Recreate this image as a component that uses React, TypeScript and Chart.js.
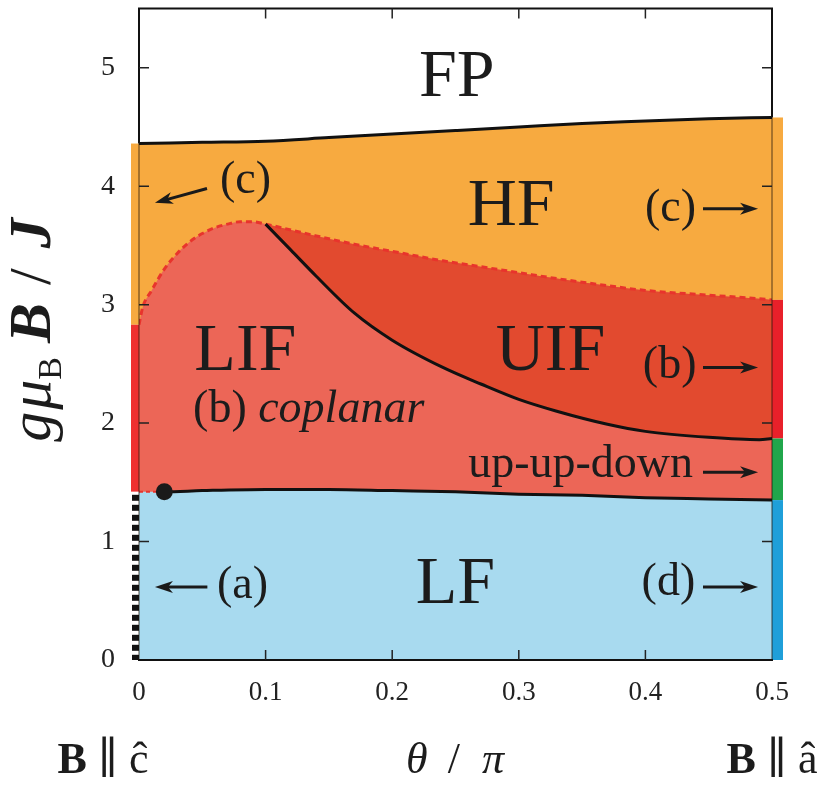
import React, { useEffect, useRef } from 'react';
import { Chart, registerables } from 'chart.js';

Chart.register(...registerables);

const SERIF = '"Liberation Serif", "Times New Roman", "DejaVu Serif", serif';

// Phase boundaries of the field–angle phase diagram (θ/π on x, gμB·B/J on y)
// FP / HF boundary
const thetaFpHf = [0, 0.05, 0.1, 0.15, 0.2, 0.25, 0.3, 0.35, 0.4, 0.45, 0.5];
const fieldFpHf = [4.36, 4.37, 4.38, 4.41, 4.44, 4.47, 4.5, 4.53, 4.55, 4.57, 4.58];

// HF / intermediate-phase boundary (dashed)
const thetaHfInt = [0, 0.003, 0.01, 0.02, 0.03, 0.04, 0.05, 0.06, 0.07, 0.08, 0.09, 0.1, 0.12, 0.14, 0.17, 0.2, 0.24, 0.27, 0.3, 0.33, 0.37, 0.4, 0.45, 0.49, 0.5];
const fieldHfInt = [2.83, 2.98, 3.12, 3.3, 3.43, 3.53, 3.6, 3.65, 3.68, 3.7, 3.7, 3.68, 3.63, 3.58, 3.51, 3.45, 3.37, 3.32, 3.27, 3.22, 3.16, 3.12, 3.08, 3.05, 3.04];

// LIF / UIF boundary
const thetaLifUif = [0.1, 0.12, 0.14, 0.17, 0.2, 0.24, 0.27, 0.3, 0.33, 0.37, 0.4, 0.45, 0.49, 0.5];
const fieldLifUif = [3.68, 3.46, 3.24, 2.93, 2.7, 2.47, 2.33, 2.2, 2.1, 1.99, 1.93, 1.88, 1.86, 1.87];

// LF / intermediate-phase boundary
const thetaLf = [0, 0.02, 0.05, 0.1, 0.15, 0.2, 0.25, 0.3, 0.35, 0.4, 0.45, 0.5];
const fieldLf = [1.42, 1.42, 1.43, 1.44, 1.44, 1.43, 1.42, 1.4, 1.39, 1.37, 1.36, 1.35];

// special point on the LF boundary
const dotTheta = [0.02];
const dotField = [1.42];

const xTickValues = [0, 0.1, 0.2, 0.3, 0.4, 0.5];
const yTickValues = [0, 1, 2, 3, 4, 5];

const C_HF = '#F7AA40';
const C_LIF = '#EC6657';
const C_UIF = '#E24A2F';
const C_LF = '#A8DAEF';
const C_DASH = '#E8342C';

const pts = (xs: number[], ys: number[]) => xs.map((x, i) => ({ x, y: ys[i] }));

type Run = { t: string; f: string; dy?: number; gap?: number };

function drawRuns(ctx: CanvasRenderingContext2D, runs: Run[], x: number, y: number, align: 'left' | 'center' | 'right') {
  let total = 0;
  for (const r of runs) {
    ctx.font = r.f;
    total += ctx.measureText(r.t).width + (r.gap || 0);
  }
  let cx = align === 'left' ? x : align === 'center' ? x - total / 2 : x - total;
  ctx.textAlign = 'left';
  ctx.textBaseline = 'alphabetic';
  for (const r of runs) {
    ctx.font = r.f;
    ctx.fillText(r.t, cx, y + (r.dy || 0));
    cx += ctx.measureText(r.t).width + (r.gap || 0);
  }
}

function arrow(ctx: CanvasRenderingContext2D, x0: number, y0: number, x1: number, y1: number) {
  const ang = Math.atan2(y1 - y0, x1 - x0);
  const head = 15;
  const half = 6;
  const bx = x1 - head * Math.cos(ang);
  const by = y1 - head * Math.sin(ang);
  ctx.save();
  ctx.strokeStyle = '#1a1a1a';
  ctx.fillStyle = '#1a1a1a';
  ctx.lineWidth = 3;
  ctx.beginPath();
  ctx.moveTo(x0, y0);
  ctx.lineTo(bx + 3 * Math.cos(ang), by + 3 * Math.sin(ang));
  ctx.stroke();
  ctx.beginPath();
  ctx.moveTo(x1, y1);
  ctx.lineTo(bx - half * Math.sin(ang) - 3 * Math.cos(ang), by + half * Math.cos(ang) - 3 * Math.sin(ang));
  ctx.lineTo(bx + 2 * Math.cos(ang), by + 2 * Math.sin(ang));
  ctx.lineTo(bx + half * Math.sin(ang) - 3 * Math.cos(ang), by - half * Math.cos(ang) - 3 * Math.sin(ang));
  ctx.closePath();
  ctx.fill();
  ctx.restore();
}

const decor = {
  id: 'phaseDecor',
  afterDatasetsDraw(chart: any) {
    const ctx: CanvasRenderingContext2D = chart.ctx;
    const xs = chart.scales.x;
    const ys = chart.scales.y;
    const { left, right, top, bottom } = chart.chartArea;
    const X = (v: number) => xs.getPixelForValue(v);
    const Y = (v: number) => ys.getPixelForValue(v);
    const n = (a: number[]) => a[a.length - 1];

    ctx.save();
    // left edge strips (θ = 0)
    const lw = 8;
    ctx.fillStyle = C_HF;
    ctx.fillRect(left - lw, Y(fieldFpHf[0]), lw, Y(fieldHfInt[0]) - Y(fieldFpHf[0]));
    ctx.fillStyle = '#EE3030';
    ctx.fillRect(left - lw, Y(fieldHfInt[0]), lw, Y(fieldLf[0]) - Y(fieldHfInt[0]));
    ctx.fillStyle = '#ffffff';
    ctx.fillRect(left - lw, Y(fieldLf[0]), lw, bottom - Y(fieldLf[0]));
    ctx.fillStyle = '#111';
    for (let yy = Y(fieldLf[0]) + 3; yy < bottom; yy += 10) {
      ctx.fillRect(left - lw + 1, yy, lw - 1, Math.min(6, bottom - yy));
    }

    // right edge strips (θ = π/2)
    const rw = 11;
    ctx.fillStyle = C_HF;
    ctx.fillRect(right, Y(n(fieldFpHf)), rw, Y(n(fieldHfInt)) - Y(n(fieldFpHf)));
    ctx.fillStyle = '#E8202A';
    ctx.fillRect(right, Y(n(fieldHfInt)), rw, Y(n(fieldLifUif)) - Y(n(fieldHfInt)));
    ctx.fillStyle = '#20A64B';
    ctx.fillRect(right, Y(n(fieldLifUif)), rw, Y(n(fieldLf)) - Y(n(fieldLifUif)));
    ctx.fillStyle = '#1F9FD9';
    ctx.fillRect(right, Y(n(fieldLf)), rw, bottom - Y(n(fieldLf)));

    // frame
    ctx.strokeStyle = '#111';
    ctx.lineWidth = 2;
    ctx.beginPath();
    ctx.moveTo(left, Y(fieldFpHf[0]));
    ctx.lineTo(left, top);
    ctx.lineTo(right, top);
    ctx.lineTo(right, Y(n(fieldFpHf)));
    ctx.moveTo(left - 1, bottom);
    ctx.lineTo(right + 1, bottom);
    ctx.stroke();
    ctx.lineWidth = 1;
    ctx.strokeStyle = 'rgba(30,20,10,0.75)';
    ctx.beginPath();
    ctx.moveTo(left, Y(fieldFpHf[0]));
    ctx.lineTo(left, bottom);
    ctx.moveTo(right, Y(n(fieldFpHf)));
    ctx.lineTo(right, bottom);
    ctx.stroke();

    // inward tick marks
    ctx.strokeStyle = '#222';
    ctx.lineWidth = 1.5;
    ctx.beginPath();
    for (const v of xTickValues.slice(1, -1)) {
      ctx.moveTo(X(v), bottom);
      ctx.lineTo(X(v), bottom - 10);
      ctx.moveTo(X(v), top);
      ctx.lineTo(X(v), top + 10);
    }
    for (const v of yTickValues.slice(1)) {
      ctx.moveTo(left, Y(v));
      ctx.lineTo(left + 10, Y(v));
      ctx.moveTo(right, Y(v));
      ctx.lineTo(right - 10, Y(v));
    }
    ctx.stroke();

    // phase names
    ctx.fillStyle = '#1c1c1c';
    const big = `68px ${SERIF}`;
    const mid = `46px ${SERIF}`;
    const midI = `italic 46px ${SERIF}`;
    drawRuns(ctx, [{ t: 'FP', f: big }], X(0.251), Y(4.76), 'center');
    drawRuns(ctx, [{ t: 'HF', f: big }], X(0.294), Y(3.67), 'center');
    drawRuns(ctx, [{ t: 'LIF', f: big }], X(0.084), Y(2.445), 'center');
    drawRuns(ctx, [{ t: 'UIF', f: big }], X(0.325), Y(2.445), 'center');
    drawRuns(ctx, [{ t: 'LF', f: big }], X(0.25), Y(0.48), 'center');
    drawRuns(ctx, [{ t: '(b) ', f: mid }, { t: 'coplanar', f: midI }], X(0.0427), Y(2.007), 'left');

    // field-direction annotations
    drawRuns(ctx, [{ t: '(c)', f: mid }], X(0.3997), Y(3.71), 'left');
    arrow(ctx, X(0.4455), Y(3.81), X(0.489), Y(3.81));
    drawRuns(ctx, [{ t: '(b)', f: mid }], X(0.398), Y(2.378), 'left');
    arrow(ctx, X(0.4455), Y(2.47), X(0.489), Y(2.47));
    drawRuns(ctx, [{ t: 'up-up-down', f: mid }], X(0.26), Y(1.543), 'left');
    arrow(ctx, X(0.4455), Y(1.585), X(0.489), Y(1.585));
    drawRuns(ctx, [{ t: '(d)', f: mid }], X(0.397), Y(0.548), 'left');
    arrow(ctx, X(0.4455), Y(0.616), X(0.489), Y(0.616));
    drawRuns(ctx, [{ t: '(a)', f: mid }], X(0.0616), Y(0.523), 'left');
    arrow(ctx, X(0.054), Y(0.616), X(0.0126), Y(0.616));
    drawRuns(ctx, [{ t: '(c)', f: mid }], X(0.064), Y(3.94), 'left');
    arrow(ctx, X(0.0537), Y(3.98), X(0.0126), Y(3.86));

    // y-axis title
    ctx.save();
    ctx.translate(50, 330);
    ctx.rotate(-Math.PI / 2);
    drawRuns(
      ctx,
      [
        { t: 'g', f: `italic 60px ${SERIF}`, gap: 2 },
        { t: 'μ', f: `italic 60px ${SERIF}` },
        { t: 'B', f: `34px ${SERIF}`, dy: 11, gap: 14 },
        { t: 'B', f: `bold italic 60px ${SERIF}`, gap: 18 },
        { t: '/', f: `60px ${SERIF}`, gap: 20 },
        { t: 'J', f: `bold italic 60px ${SERIF}` },
      ],
      0,
      0,
      'center'
    );
    ctx.restore();

    // x-axis title and field-direction end labels
    const lab = `44px ${SERIF}`;
    drawRuns(ctx, [{ t: 'B', f: `bold ${lab}` }, { t: ' ∥ ', f: lab }, { t: 'ĉ', f: lab }], 103, 773, 'center');
    drawRuns(
      ctx,
      [
        { t: 'θ', f: `italic ${lab}`, gap: 20 },
        { t: '/', f: lab, gap: 22 },
        { t: 'π', f: `italic ${lab}` },
      ],
      455,
      773,
      'center'
    );
    drawRuns(ctx, [{ t: 'B', f: `bold ${lab}` }, { t: ' ∥ ', f: lab }, { t: 'â', f: lab }], 772, 773, 'center');
    ctx.restore();
  },
};

export default function App() {
  const ref = useRef<HTMLCanvasElement>(null);

  useEffect(() => {
    document.body.style.margin = '0';
    const canvas = ref.current;
    if (!canvas) return;

    const fpHf = pts(thetaFpHf, fieldFpHf);
    const hfInt = pts(thetaHfInt, fieldHfInt);
    const uifTop = hfInt.filter((p) => p.x >= thetaLifUif[0]);
    const lifUif = pts(thetaLifUif, fieldLifUif);
    const lf = pts(thetaLf, fieldLf);
    const dot = pts(dotTheta, dotField);

    const area = (data: any, color: string, order: number, fill: any) => ({
      type: 'line' as const,
      data,
      order,
      fill,
      backgroundColor: color,
      borderWidth: 0,
      pointRadius: 0,
      cubicInterpolationMode: 'monotone' as const,
    });
    const edge = (data: any, order: number, extra: any = {}) => ({
      type: 'line' as const,
      data,
      order,
      fill: false,
      borderColor: '#111',
      borderWidth: 3,
      pointRadius: 0,
      cubicInterpolationMode: 'monotone' as const,
      ...extra,
    });

    const chart = new Chart(canvas, {
      type: 'line',
      data: {
        datasets: [
          area(fpHf, C_HF, 20, 'origin'),
          area(hfInt, C_LIF, 19, 'origin'),
          area(lf, C_LF, 18, 'origin'),
          area(uifTop, 'rgba(0,0,0,0)', 17, false),
          area(lifUif, C_UIF, 16, 3),
          edge(fpHf, 10),
          edge(hfInt, 9, { borderColor: C_DASH, borderDash: [6, 4], borderWidth: 3 }),
          edge(lifUif, 8),
          edge(lf, 7, {
            segment: {
              borderColor: (c: any) => (c.p0DataIndex === 0 ? C_DASH : '#111'),
              borderDash: (c: any) => (c.p0DataIndex === 0 ? [4, 3] : undefined),
              borderWidth: (c: any) => (c.p0DataIndex === 0 ? 2 : 3),
            },
          }),
          {
            type: 'scatter' as const,
            data: dot,
            order: 1,
            pointRadius: 8.5,
            pointBackgroundColor: '#1a1a1a',
            pointBorderWidth: 0,
          },
        ] as any,
      },
      options: {
        animation: false,
        responsive: false,
        maintainAspectRatio: false,
        layout: { padding: { left: 0, right: 66, top: 8, bottom: 0 } },
        plugins: { legend: { display: false }, tooltip: { enabled: false } },
        scales: {
          x: {
            type: 'linear',
            min: 0,
            max: 0.5,
            afterFit: (s: any) => {
              s.height = 125;
              s.paddingLeft = 0;
              s.paddingRight = 0;
              s.paddingTop = 0;
              s.paddingBottom = 0;
            },
            grid: { display: false, drawTicks: false },
            border: { display: false },
            afterBuildTicks: (s: any) => {
              s.ticks = xTickValues.map((v) => ({ value: v }));
            },
            ticks: {
              autoSkip: false,
              maxRotation: 0,
              padding: 17,
              color: '#222',
              font: { family: SERIF, size: 27 },
              callback: (v: any) => (Number(v) === 0 ? '0' : Number(v).toFixed(1)),
            },
          },
          y: {
            type: 'linear',
            min: 0,
            max: 5.5,
            afterFit: (s: any) => {
              s.width = 139;
              s.paddingLeft = 0;
              s.paddingRight = 0;
              s.paddingTop = 0;
              s.paddingBottom = 0;
            },
            grid: { display: false, drawTicks: false },
            border: { display: false },
            afterBuildTicks: (s: any) => {
              s.ticks = yTickValues.map((v) => ({ value: v }));
            },
            ticks: {
              autoSkip: false,
              padding: 24,
              color: '#222',
              font: { family: SERIF, size: 28 },
              callback: (v: any) => String(v),
            },
          },
        },
      },
      plugins: [decor],
    });

    return () => chart.destroy();
  }, []);

  return (
    <div style={{ width: 838, height: 785, background: '#fff' }}>
      <canvas ref={ref} width={838} height={785} style={{ display: 'block', width: 838, height: 785 }} />
    </div>
  );
}
